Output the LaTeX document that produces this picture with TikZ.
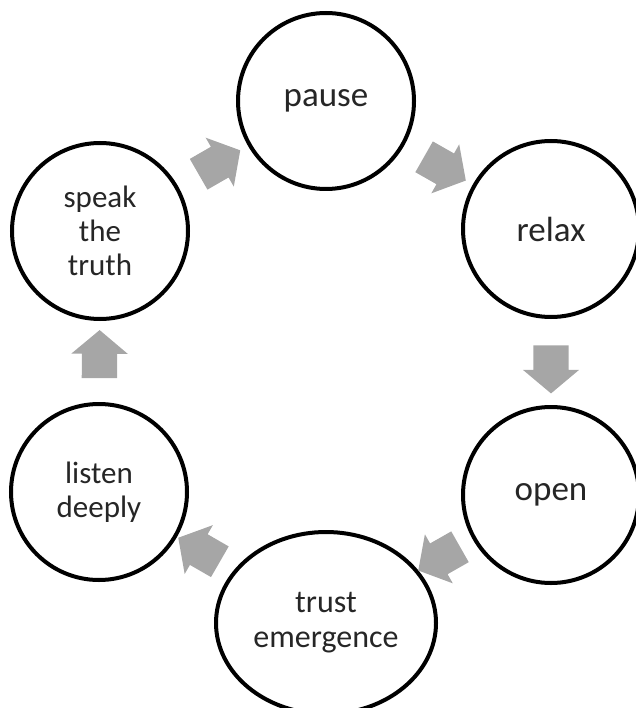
\documentclass[tikz,border=0pt]{standalone}
\usepackage{fontspec}
\setmainfont{Carlito}
\usetikzlibrary{shapes.geometric, shapes.arrows, arrows, positioning}

\begin{document}
\begin{tikzpicture}[x=1pt, y=-1pt]
		\tikzstyle{Step} = [circle, minimum size=176pt, inner sep=0pt, draw=black, line width=4pt, text=black!85, align=center, font=\fontsize{31}{34}\selectfont]
		\tikzstyle{Word} = [font=\fontsize{35}{40}\selectfont]
		\tikzstyle{blockarrow} = [single arrow, draw=none, fill=black!35, minimum height=48pt, inner xsep=0pt, inner ysep=17.5pt, single arrow head extend=10.5pt, single arrow tip angle=100, sloped, allow upside down]
		
		\useasboundingbox (0,0) rectangle (635,708);
		
		\node (pause) [Step, Word] at (326,101) {pause};
		\node (relax) [Step, Word] at (551,229) {relax};
		\node (open) [Step, Word] at (551,495) {open};
		\node (trust) [Step, ellipse, minimum width=220pt, minimum height=182pt, font=\fontsize{32}{35}\selectfont] at (326,623) {trust\\emergence};
		\node (listen) [Step] at (99,492) {listen\\deeply};
		\node (speak) [Step] at (100,231) {speak\\the\\truth};
		
		\path (pause) -- node [blockarrow] {} (relax);
		\path (relax) -- node [blockarrow] {} (open);
		\path (open) -- node [blockarrow] {} (trust);
		\path (trust) -- node [blockarrow] {} (listen);
		\path (listen) -- node [blockarrow] {} (speak);
		\path (speak) -- node [blockarrow] {} (pause);
\end{tikzpicture}
\end{document}
